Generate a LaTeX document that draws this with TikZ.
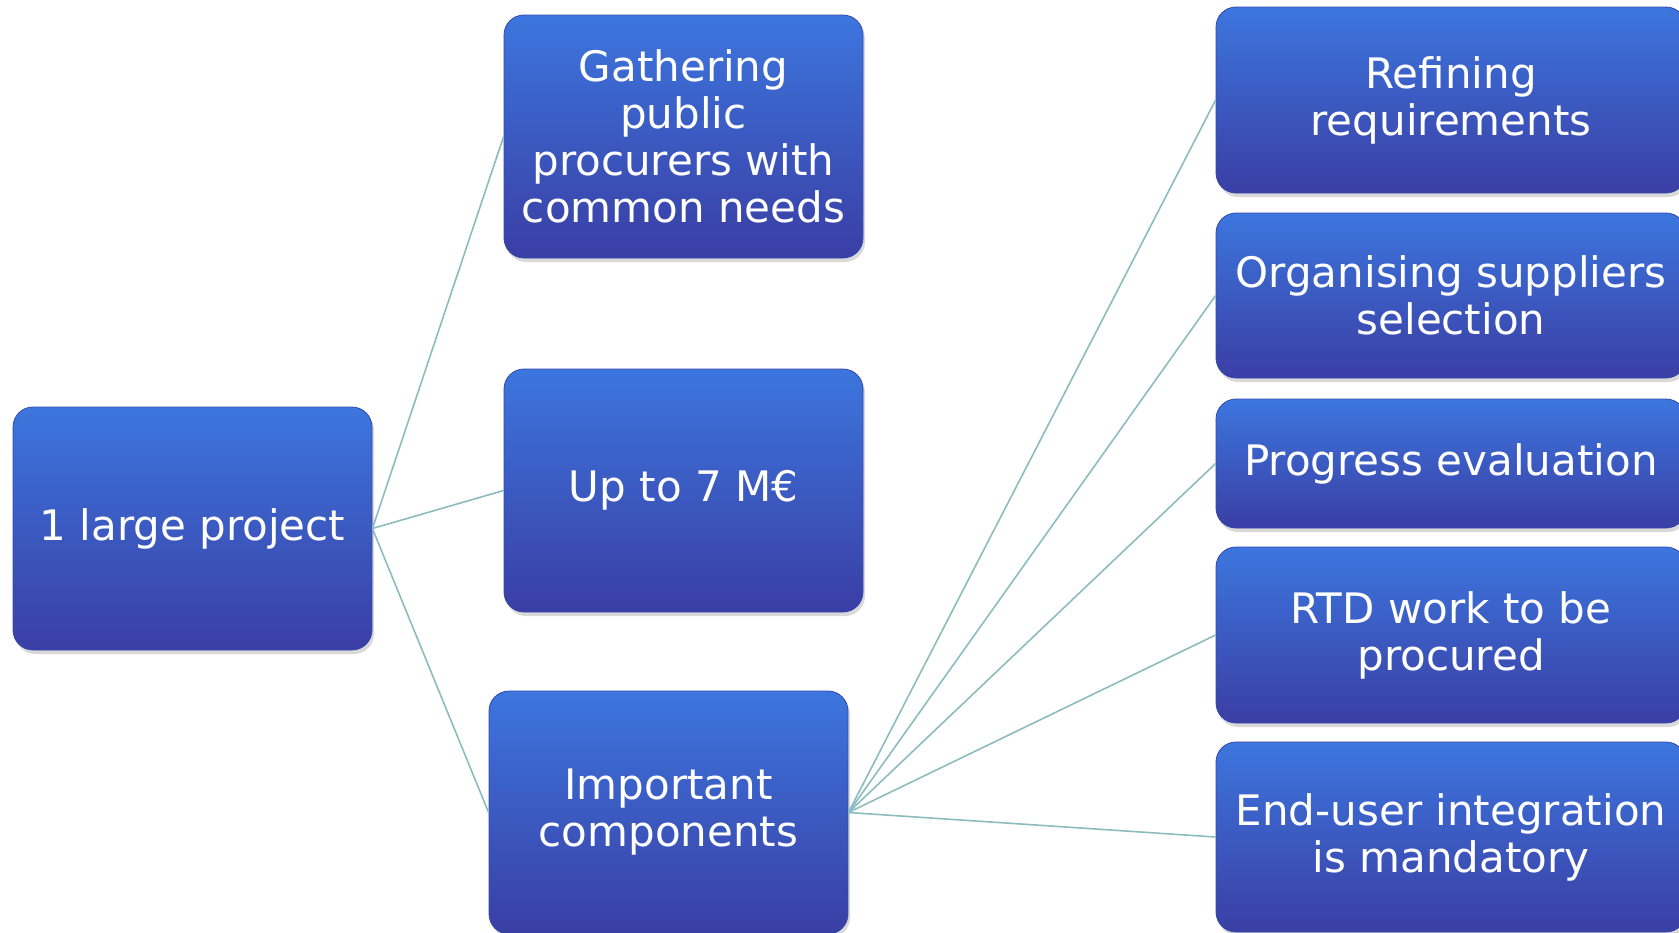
\documentclass[tikz,border=0pt]{standalone}
\usepackage{fontspec}
\setmainfont{DejaVu Sans}
\usetikzlibrary{shadows}
\definecolor{BoxTop}{RGB}{60,118,222}
\definecolor{BoxBot}{RGB}{58,62,164}
\definecolor{BoxLine}{RGB}{52,72,172}
\definecolor{Link}{RGB}{140,188,190}

\begin{document}
\begin{tikzpicture}[x=0.5pt,y=-0.5pt,
    box/.style={rounded corners=10pt,top color=BoxTop,bottom color=BoxBot,
      draw=BoxLine,line width=0.4pt,text=white,align=center,inner sep=0pt,
      font=\fontsize{21}{23.5}\selectfont,
      drop shadow={shadow xshift=1pt,shadow yshift=-2pt,opacity=0.3}},
    midbox/.style={box,minimum width=179.5pt,minimum height=121.5pt},
    sidebox/.style={box,minimum width=235pt},
    link/.style={draw=Link,line width=0.8pt}]
  \useasboundingbox (0,0) rectangle (1679,932);
  % first level
  \node[midbox] (proj) at (192.5,528.5) {1 large project};
  \node[midbox] (gather) at (683.5,136.5) {Gathering\\public\\procurers with\\common needs};
  \node[midbox] (budget) at (683.5,490.5) {Up to 7 M€};
  \node[midbox] (comp) at (668.5,812.5) {Important\\components};
  % components
  \node[sidebox,minimum height=93pt] (refine) at (1451,100) {Refining\\requirements};
  \node[sidebox,minimum height=82.5pt] (select) at (1451,295.5) {Organising suppliers\\selection};
  \node[sidebox,minimum height=64.5pt] (progress) at (1451,463.5) {Progress evaluation};
  \node[sidebox,minimum height=88pt] (rtd) at (1451,635) {RTD work to be\\procured};
  \node[sidebox,minimum height=95pt] (enduser) at (1451,837) {End-user integration\\is mandatory};
  % links
  \draw[link] (proj.east)--(gather.west);\draw[link] (proj.east)--(budget.west);
  \draw[link] (proj.east)--(comp.west);
  \foreach \n in {refine,select,progress,rtd,enduser}
    \draw[link] (comp.east)--(\n.west);
\end{tikzpicture}
\end{document}
